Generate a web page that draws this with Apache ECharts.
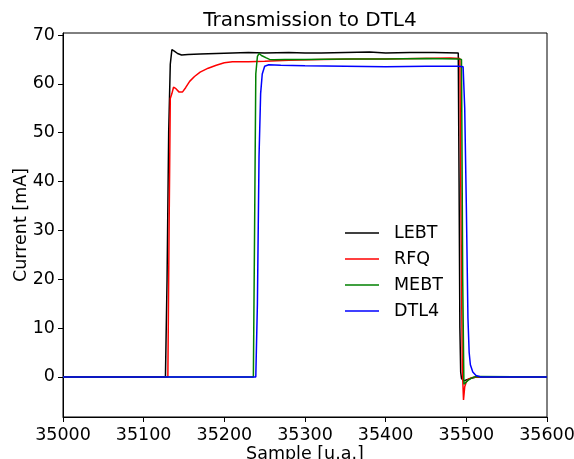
<!DOCTYPE html>
<html>
<head>
<meta charset="utf-8">
<script src="https://cdn.jsdelivr.net/npm/echarts@6/dist/echarts.min.js"></script>
<style>html,body{margin:0;padding:0;background:#fff;}#c{width:574px;height:459px;}</style>
</head>
<body>
<div id="c"></div>
<script>
var xTicks = [35000, 35100, 35200, 35300, 35400, 35500, 35600];
var yTicks = [0, 10, 20, 30, 40, 50, 60, 70];

var lebtX = [35000, 35127, 35129, 35131, 35133, 35135, 35138, 35142, 35147, 35155, 35170, 35190, 35210, 35230, 35250, 35280, 35300, 35320, 35350, 35380, 35400, 35430, 35460, 35490, 35491, 35492, 35493, 35494, 35497, 35500, 35505, 35512, 35600];
var lebtY = [0, 0, 20, 50, 64, 67.0, 66.7, 66.2, 65.9, 66.0, 66.1, 66.2, 66.3, 66.4, 66.3, 66.4, 66.3, 66.3, 66.4, 66.5, 66.3, 66.4, 66.4, 66.3, 40, 10, 1, -0.3, -0.8, -0.6, -0.3, 0, 0];

var rfqX = [35000, 35130, 35131.5, 35133, 35135, 35137, 35140, 35144, 35148, 35152, 35157, 35163, 35170, 35180, 35190, 35200, 35210, 35230, 35250, 35280, 35320, 35360, 35400, 35440, 35480, 35492, 35493.5, 35495, 35496.5, 35498, 35500, 35503, 35508, 35515, 35600];
var rfqY = [0, 0, 30, 57, 58, 59.3, 59.0, 58.3, 58.3, 59.2, 60.5, 61.5, 62.4, 63.2, 63.8, 64.3, 64.5, 64.5, 64.6, 64.8, 65.0, 65.1, 65.1, 65.2, 65.3, 65.2, 30, 2, -4.7, -2, -1, -0.4, -0.1, 0, 0];

var mebtX = [35000, 35236, 35237.5, 35239, 35241, 35243, 35246, 35252, 35256, 35262, 35275, 35300, 35350, 35400, 35450, 35490, 35494, 35495.5, 35497, 35499, 35502, 35506, 35510, 35515, 35600];
var mebtY = [0, 0, 30, 62, 65.6, 66.2, 65.8, 65.3, 65.0, 64.9, 65.0, 65.0, 65.1, 65.1, 65.2, 65.1, 65.0, 20, -1.5, -1.2, -0.7, -0.3, 0, 0.1, 0];

var dtlX = [35000, 35239, 35241, 35243, 35245, 35247, 35250, 35255, 35270, 35300, 35350, 35400, 35450, 35490, 35496, 35498, 35500, 35502, 35503.5, 35505, 35508, 35512, 35518, 35600];
var dtlY = [0, 0, 15, 45, 58, 62, 63.6, 63.9, 63.8, 63.7, 63.6, 63.5, 63.6, 63.6, 63.5, 55, 35, 12, 5, 2.5, 1, 0.3, 0, 0];

function zip(xs, ys) { return xs.map(function (x, i) { return [x, ys[i]]; }); }

var FONT = 'DejaVu Sans';
var chart = echarts.init(document.getElementById('c'), null, {renderer: 'canvas'});

function ser(name, xs, ys, color) {
  return {
    name: name, type: 'line', data: zip(xs, ys), showSymbol: false, symbol: 'none',
    lineStyle: {color: color, width: 1.5}, itemStyle: {color: color}, animation: false
  };
}

chart.setOption({
  animation: false,
  backgroundColor: '#fff',
  title: {
    text: 'Transmission to DTL4', left: 305, top: 6, textAlign: 'center',
    textStyle: {fontFamily: FONT, fontSize: 20, fontWeight: 'normal', color: '#000'}
  },
  grid: {left: 63, right: 27, top: 33, bottom: 42, show: true, borderColor: '#000', borderWidth: 1, backgroundColor: 'transparent', outerBoundsMode: 'none', containLabel: false},
  legend: {
    orient: 'vertical', left: 340, top: 218, itemWidth: 34, itemHeight: 1.6, itemGap: 6,
    icon: 'rect',
    data: ['LEBT', 'RFQ', 'MEBT', 'DTL4'],
    textStyle: {fontFamily: FONT, fontSize: 17.5, color: '#000', lineHeight: 20, padding: [0, 0, 0, 10]}
  },
  xAxis: {
    type: 'value', min: 35000, max: 35600, interval: 100,
    name: 'Sample [u.a.]', nameLocation: 'middle', nameGap: 28, nameMoveOverlap: false,
    nameTextStyle: {fontFamily: FONT, fontSize: 17.5, color: '#000'},
    axisLine: {show: true, onZero: false, lineStyle: {color: '#000', width: 1}},
    axisTick: {show: true, inside: false, length: 5, lineStyle: {color: '#000'}, customValues: xTicks},
    axisLabel: {fontFamily: FONT, fontSize: 17.5, color: '#000', margin: 9, customValues: xTicks, formatter: function (v) { return String(v); }},
    splitLine: {show: false}
  },
  yAxis: {
    type: 'value', min: -8.2, max: 70.4,
    name: 'Current [mA]', nameLocation: 'middle', nameGap: 33, nameMoveOverlap: false,
    nameTextStyle: {fontFamily: FONT, fontSize: 17.5, color: '#000'},
    axisLine: {show: true, onZero: false, lineStyle: {color: '#000', width: 1}},
    axisTick: {show: true, inside: false, length: 5, lineStyle: {color: '#000'}, customValues: yTicks},
    axisLabel: {fontFamily: FONT, fontSize: 17.5, color: '#000', margin: 8, customValues: yTicks, formatter: function (v) { return String(v); }},
    splitLine: {show: false}
  },
  series: [
    ser('LEBT', lebtX, lebtY, '#000000'),
    ser('RFQ', rfqX, rfqY, '#ff0000'),
    ser('MEBT', mebtX, mebtY, '#008000'),
    ser('DTL4', dtlX, dtlY, '#0000ff')
  ]
});
</script>
</body>
</html>
